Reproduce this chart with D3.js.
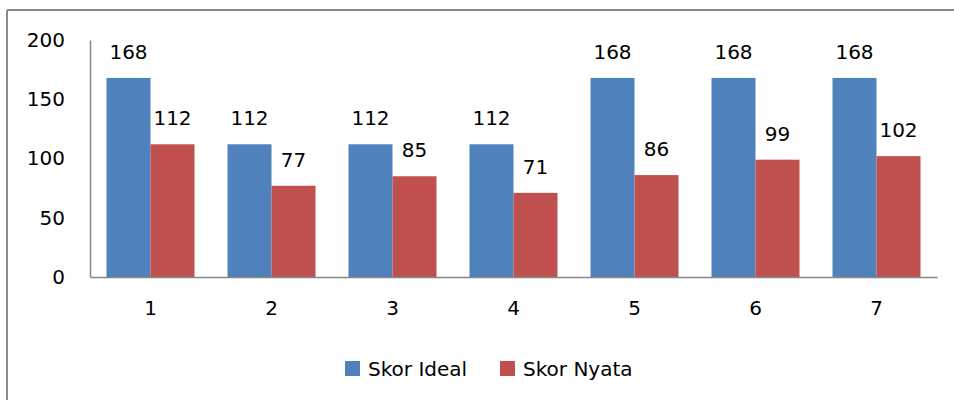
<!DOCTYPE html>
<html>
<head>
<meta charset="utf-8">
<script src="https://d3js.org/d3.v7.min.js"></script>
<style>
  body { margin: 0; background: #fff; }
  svg text { font-family: "DejaVu Sans", "Liberation Sans", sans-serif; fill: #000; }
</style>
</head>
<body>
<div id="chart"></div>
<script>
// categories and series
const categories = ['1', '2', '3', '4', '5', '6', '7'];
const skorIdeal = [168, 112, 112, 112, 168, 168, 168];
const skorNyata = [112, 77, 85, 71, 86, 99, 102];
const seriesNames = ['Skor Ideal', 'Skor Nyata'];
const yTicks = [0, 50, 100, 150, 200];

const width = 954, height = 400;
const colors = ['#4f81bd', '#c0504d'];

const svg = d3.select('#chart').append('svg')
    .attr('width', width)
    .attr('height', height);

// outer frame (only top and left visible)
svg.append('line').attr('x1', 7).attr('x2', width).attr('y1', 10).attr('y2', 10)
    .attr('stroke', '#8c8c8c').attr('stroke-width', 2);
svg.append('line').attr('x1', 7).attr('x2', 7).attr('y1', 10).attr('y2', height)
    .attr('stroke', '#8c8c8c').attr('stroke-width', 2);

const plot = {left: 90, right: 937, top: 40, bottom: 277};

const x0 = d3.scaleBand()
    .domain(categories)
    .range([plot.left, plot.right]);

const groupW = x0.bandwidth() * 88 / 121;
const x1 = d3.scaleBand()
    .domain(seriesNames)
    .range([0, groupW]);

const y = d3.scaleLinear()
    .domain([0, 200])
    .range([plot.bottom, plot.top]);

const data = categories.map((c, i) => ({cat: c, values: [skorIdeal[i], skorNyata[i]]}));

// bars
const groups = svg.append('g').selectAll('g')
    .data(data)
    .join('g')
    .attr('transform', d => `translate(${x0(d.cat) + (x0.bandwidth() - groupW) / 2},0)`);

groups.selectAll('rect')
    .data(d => d.values.map((v, j) => ({name: seriesNames[j], v, j})))
    .join('rect')
    .attr('x', d => x1(d.name))
    .attr('y', d => y(d.v))
    .attr('width', x1.bandwidth())
    .attr('height', d => y(0) - y(d.v))
    .attr('fill', d => colors[d.j]);

// value labels
groups.selectAll('text')
    .data(d => d.values.map((v, j) => ({name: seriesNames[j], v, j})))
    .join('text')
    .attr('x', d => x1(d.name) + x1.bandwidth() / 2)
    .attr('y', d => y(d.v) - 19)
    .attr('text-anchor', 'middle')
    .style('font-size', '20px')
    .text(d => d.v);

// y axis
const yAxis = svg.append('g')
    .attr('transform', `translate(${plot.left},0)`)
    .call(d3.axisLeft(y).tickValues(yTicks).tickSize(0).tickPadding(25));
yAxis.select('.domain').attr('stroke', '#868686').attr('stroke-width', 1.5);
yAxis.selectAll('text').style('font-size', '20px');

// x axis
const xAxis = svg.append('g')
    .attr('transform', `translate(0,${plot.bottom})`)
    .call(d3.axisBottom(x0).tickSize(0).tickPadding(24));
xAxis.select('.domain').attr('stroke', '#868686').attr('stroke-width', 1.5);
xAxis.selectAll('text').style('font-size', '20px');

// legend
const legendX = [345, 500];
const legend = svg.append('g').selectAll('g')
    .data(seriesNames)
    .join('g')
    .attr('transform', (d, i) => `translate(${legendX[i]},361)`);
legend.append('rect')
    .attr('width', 15).attr('height', 15)
    .attr('fill', (d, i) => colors[i]);
legend.append('text')
    .attr('x', 23).attr('y', 15)
    .style('font-size', '20px')
    .text(d => d);
</script>
</body>
</html>
